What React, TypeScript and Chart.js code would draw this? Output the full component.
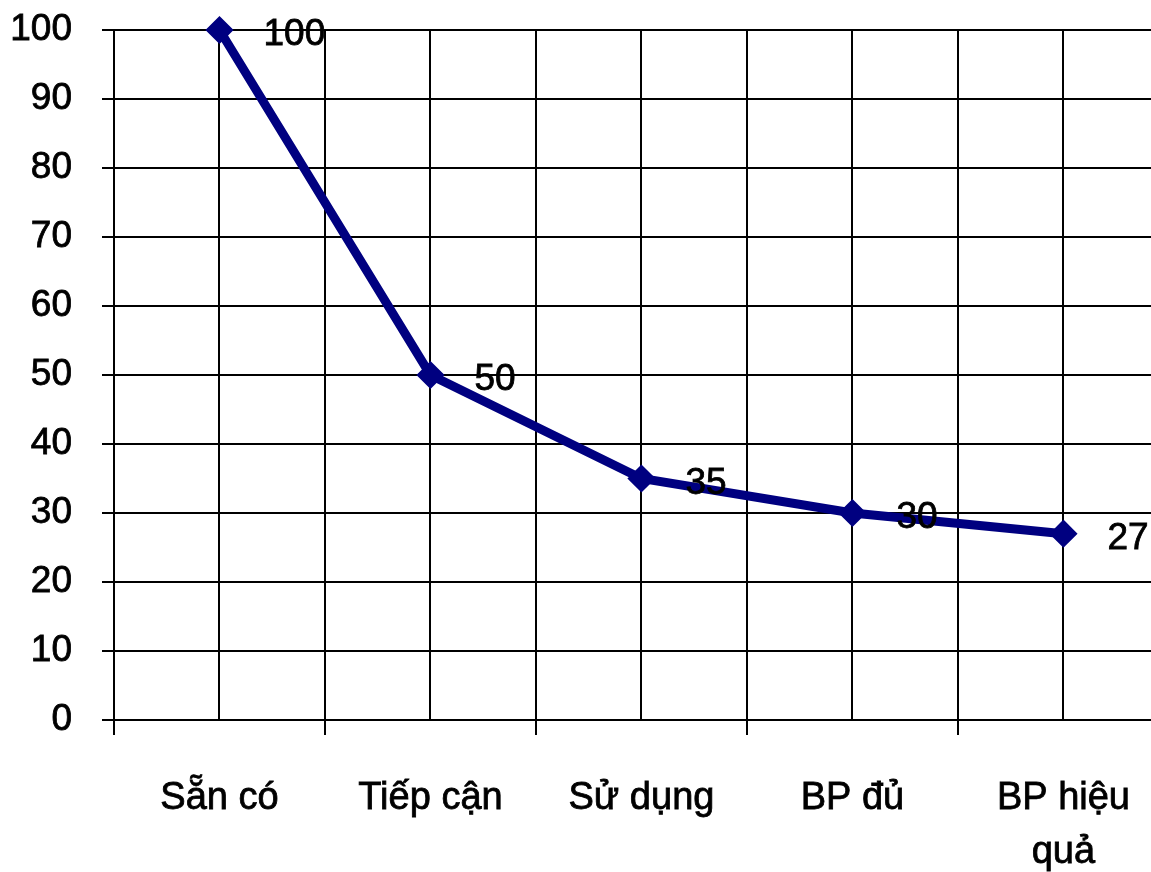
import { useEffect, useRef } from 'react';
import { Chart, registerables } from 'chart.js';

Chart.register(...registerables);

const categories: (string | string[])[] = ['Sẵn có', 'Tiếp cận', 'Sử dụng', 'BP đủ', ['BP hiệu', 'quả']];
const values = [100, 50, 35, 30, 27];
const yMin = 0;
const yMax = 100;
const yStep = 10;

const FONT = '"Liberation Sans", Arial, sans-serif';
const W = 1151;
const H = 872;

const valueLabels = {
  id: 'valueLabels',
  afterDatasetsDraw(chart: any) {
    const meta = chart.getDatasetMeta(0);
    const ctx = chart.ctx;
    ctx.save();
    ctx.font = `37px ${FONT}`;
    ctx.fillStyle = '#000';
    ctx.strokeStyle = '#000';
    ctx.lineWidth = 0.8;
    ctx.textAlign = 'left';
    ctx.textBaseline = 'middle';
    meta.data.forEach((pt: any, i: number) => {
      ctx.fillText(String(values[i]), pt.x + 44, pt.y + 5);
      ctx.strokeText(String(values[i]), pt.x + 44, pt.y + 5);
    });
    ctx.restore();
  },
};

export default function App() {
  const ref = useRef<HTMLCanvasElement>(null);
  useEffect(() => {
    if (!ref.current) return;
    document.documentElement.style.overflow = 'hidden';
    document.body.style.margin = '0';
    const chart = new Chart(ref.current, {
      type: 'line',
      data: {
        datasets: [
          {
            data: values.map((v, i) => ({ x: i + 0.5, y: v })),
            borderColor: '#000080',
            backgroundColor: '#000080',
            borderWidth: 9,
            pointStyle: 'rectRot',
            pointRadius: 12,
            pointBorderWidth: 3,
            pointBackgroundColor: '#000080',
            pointBorderColor: '#000080',
            tension: 0,
            clip: false as any,
          },
        ],
      },
      options: {
        animation: false,
        responsive: false,
        devicePixelRatio: 1,
        layout: { autoPadding: false, padding: { top: 30, right: 0, bottom: 0, left: 0 } },
        plugins: { legend: { display: false }, tooltip: { enabled: false } },
        scales: {
          x: {
            type: 'linear',
            min: 0,
            max: 4.915,
            afterBuildTicks: (scale: any) => {
              const t = [];
              for (let i = 0; i <= categories.length * 2 - 1; i++) t.push({ value: i * 0.5 });
              scale.ticks = t;
            },
            afterFit: (scale: any) => {
              scale.height = 152;
              scale.paddingLeft = 0;
              scale.paddingRight = 0;
            },
            ticks: {
              autoSkip: false,
              maxRotation: 0,
              minRotation: 0,
              padding: 37,
              color: '#000',
              textStrokeColor: '#000',
              textStrokeWidth: 0.8,
              font: { family: FONT, size: 38, lineHeight: 1.42 },
              callback: (value: any) => {
                const v = Number(value);
                if (Math.abs((v % 1) - 0.5) < 1e-6) return categories[Math.floor(v)] as any;
                return '';
              },
            },
            grid: {
              color: '#000',
              lineWidth: 2,
              tickLength: 15,
              tickColor: (ctx: any) =>
                Math.abs((ctx.tick?.value ?? 0) % 1) < 1e-6 ? '#000' : 'rgba(0,0,0,0)',
            },
            border: { display: true, color: '#000', width: 2 },
          },
          y: {
            min: yMin,
            max: yMax,
            afterFit: (scale: any) => {
              scale.width = 114;
              scale.paddingTop = 0;
              scale.paddingBottom = 0;
            },
            ticks: {
              stepSize: yStep,
              padding: 30,
              color: '#000',
              textStrokeColor: '#000',
              textStrokeWidth: 0.8,
              font: { family: FONT, size: 37 },
            },
            grid: { color: '#000', lineWidth: 2, tickLength: 12 },
            border: { display: true, color: '#000', width: 2 },
          },
        },
      },
      plugins: [valueLabels],
    });
    return () => chart.destroy();
  }, []);
  return (
    <div style={{ position: 'fixed', left: 0, top: 0, width: W, height: H, background: '#fff', overflow: 'hidden' }}>
      <canvas ref={ref} width={W} height={H} style={{ display: 'block', width: W, height: H }} />
    </div>
  );
}
